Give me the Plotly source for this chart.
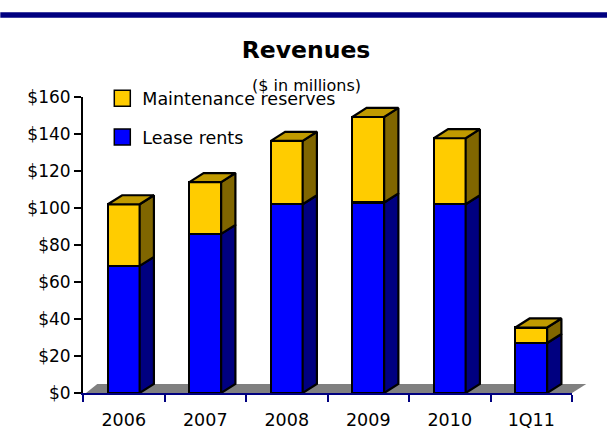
import plotly.graph_objects as go

categories = ["2006", "2007", "2008", "2009", "2010", "1Q11"]
lease_rents = [68.7, 86, 102, 103, 102, 27]
maintenance_reserves = [33.3, 28, 34.3, 46.2, 35.7, 8.4]
y_ticks = [0, 20, 40, 60, 80, 100, 120, 140, 160]

W, H = 607, 447
L, R, T, B = 82.7, 35.3, 96.7, 53.7
BAR_W = 0.39
DX, DY = 0.175, 4.9
FONT = "DejaVu Sans"
GOLD, GOLD_TOP, GOLD_SIDE = "#FFCC00", "#C09A00", "#806600"
BLUE, BLUE_SIDE = "#0000FF", "#000080"
xs = list(range(len(categories)))
totals = [a + b for a, b in zip(lease_rents, maintenance_reserves)]


def side(x, y0, y1):
    r = x + BAR_W / 2
    return [r, r + DX, r + DX, r, r, None], [y0, y0 + DY, y1 + DY, y1, y0, None]


def top(x, y):
    l, r = x - BAR_W / 2, x + BAR_W / 2
    return [l, l + DX, r + DX, r, l, None], [y, y + DY, y + DY, y, y, None]


def polygons(fn, *cols):
    px, py = [], []
    for row in zip(*cols):
        a, b = fn(*row)
        px += a
        py += b
    return px, py


def face(px, py, color):
    return go.Scatter(x=px, y=py, mode="lines", fill="toself", fillcolor=color,
                      line=dict(color="black", width=2.2), hoverinfo="skip",
                      showlegend=False, cliponaxis=False)


fig = go.Figure()
fig.add_bar(x=xs, y=lease_rents, width=BAR_W, marker=dict(color=BLUE, line=dict(color="black", width=2.2)), showlegend=False)
fig.add_bar(x=xs, y=maintenance_reserves, width=BAR_W, marker=dict(color=GOLD, line=dict(color="black", width=2.2)), showlegend=False)
fig.add_trace(face(*polygons(side, xs, [0] * 6, lease_rents), BLUE_SIDE))
fig.add_trace(face(*polygons(side, xs, lease_rents, totals), GOLD_SIDE))
fig.add_trace(face(*polygons(top, xs, totals), GOLD_TOP))
for name, color, group in [("Maintenance reserves", GOLD, "a"), ("Lease rents", BLUE, "b")]:
    fig.add_trace(go.Scatter(x=[None], y=[None], mode="markers", name=name, legendgroup=group,
                             marker=dict(symbol="square", size=16, color=color, line=dict(color="black", width=1.5))))

pw, ph = W - L - R, H - T - B
px_dx, px_dy = DX / 6 * pw, DY / 160 * ph
fx = lambda p: p / pw
fy = lambda p: p / ph
floor = f"M {fx(3)} 0 L {fx(px_dx)} {fy(px_dy)} L {1 + fx(px_dx)} {fy(px_dy)} L 1 0 Z"
fig.add_shape(type="path", path=floor, xref="paper", yref="paper", layer="below",
              fillcolor="#808080", line=dict(width=0))
fig.add_shape(type="rect", xref="paper", yref="paper", x0=-L / pw, x1=1 + R / pw,
              y0=(H - B - 17.3) / ph, y1=(H - B - 11.7) / ph,
              fillcolor="#000080", line=dict(width=0))

fig.update_layout(
    width=W, height=H, autosize=False, barmode="stack",
    margin=dict(l=L, r=R, t=T, b=B, autoexpand=False),
    paper_bgcolor="white", plot_bgcolor="white",
    font=dict(family=FONT, color="black"),
    title=dict(text="<b>Revenues</b>", x=306 / W, xanchor="center", y=1 - 50 / H, yanchor="middle",
               font=dict(size=23.5, family=FONT)),
    annotations=[dict(text="($ in millions)", xref="paper", yref="paper", showarrow=False,
                      xanchor="center", yanchor="middle",
                      x=(306 - L) / pw, y=(H - B - 85) / ph, font=dict(size=16, family=FONT))],
    legend=dict(x=(102 - L) / pw, y=(H - B - 80) / ph, xanchor="left", yanchor="top",
                bgcolor="rgba(0,0,0,0)", font=dict(size=17.5, family=FONT),
                tracegroupgap=13, traceorder="grouped"),
    xaxis=dict(range=[-0.5, 5.5], tickmode="array", tickvals=xs, ticktext=categories, ticks="",
               ticklabelstandoff=10, tickfont=dict(size=17.5), showgrid=False, zeroline=False,
               showline=True, linecolor="#000080", linewidth=1.5,
               minor=dict(tickmode="array", tickvals=[i - 0.5 for i in range(7)], ticks="outside",
                          ticklen=7, tickcolor="#000080", tickwidth=1.5, showgrid=False)),
    yaxis=dict(range=[0, 160], tickmode="array", tickvals=y_ticks, ticktext=[f"${v}" for v in y_ticks],
               ticks="outside", ticklen=7, tickcolor="black", tickwidth=2, tickfont=dict(size=17),
               showgrid=False, zeroline=False, showline=True, linecolor="black", linewidth=2),
)
fig.write_html("out.html", config=dict(displayModeBar=False), post_script="document.body.style.margin='0';")
